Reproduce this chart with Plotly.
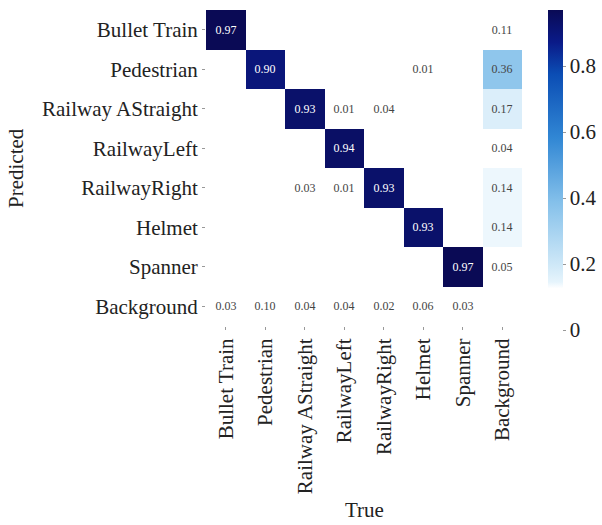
import plotly.graph_objects as go

classes = ["Bullet Train", "Pedestrian", "Railway AStraight", "RailwayLeft",
           "RailwayRight", "Helmet", "Spanner", "Background"]

row_bullet = [0.97, None, None, None, None, None, None, 0.11]
row_pedestrian = [None, 0.90, None, None, None, 0.01, None, 0.36]
row_straight = [None, None, 0.93, 0.01, 0.04, None, None, 0.17]
row_left = [None, None, None, 0.94, None, None, None, 0.04]
row_right = [None, None, 0.03, 0.01, 0.93, None, None, 0.14]
row_helmet = [None, None, None, None, None, 0.93, None, 0.14]
row_spanner = [None, None, None, None, None, None, 0.97, 0.05]
row_background = [0.03, 0.10, 0.04, 0.04, 0.02, 0.06, 0.03, None]

z = [row_bullet, row_pedestrian, row_straight, row_left,
     row_right, row_helmet, row_spanner, row_background]
text = [["" if v is None else f"{v:.2f}" for v in r] for r in z]

colorscale = [
    [0.0, "#ffffff"], [0.13, "#ffffff"], [0.15, "#e6f4fc"], [0.2, "#d0e9f8"],
    [0.4, "#84c0ea"], [0.6, "#3187d4"], [0.8, "#0b4db4"], [0.9, "#0a1a88"],
    [1.0, "#0a0a55"],
]

W, H = 602, 525
L, R, T, B = 206, 80, 10, 199
pw = W - L - R
ph = H - T - B
FONT = "Liberation Serif"

fig = go.Figure(go.Heatmap(
    z=z, x=classes, y=classes, text=text, texttemplate="%{text}",
    textfont=dict(family=FONT, size=12),
    colorscale=colorscale, zmin=0, zmax=0.97, xgap=0, ygap=0,
    hoverongaps=False,
    colorbar=dict(
        x=(548 - L) / pw, xanchor="left",
        y=(T + ph - 170) / ph, yanchor="middle", len=320, lenmode="pixels",
        ypad=0, xpad=0,
        thickness=15, outlinewidth=0,
        tickvals=[0, 0.2, 0.4, 0.6, 0.8], ticktext=["0", "0.2", "0.4", "0.6", "0.8"],
        ticks="outside", ticklen=3, tickcolor="#999",
        tickfont=dict(family=FONT, size=21, color="#222"),
    ),
))

fig.update_layout(
    width=W, height=H,
    margin=dict(l=L, r=R, t=T, b=B, autoexpand=False),
    paper_bgcolor="white", plot_bgcolor="white",
    font=dict(family=FONT, color="#222"),
    xaxis=dict(tickangle=-90, ticks="outside", ticklen=3, tickcolor="#999",
               tickfont=dict(size=21), showgrid=False, zeroline=False,
               showline=False, automargin=False),
    yaxis=dict(autorange="reversed", ticks="outside", ticklen=3, tickcolor="#999",
               tickfont=dict(size=21), showgrid=False, zeroline=False,
               showline=False, automargin=False),
    annotations=[
        dict(text="True", xref="paper", yref="paper", x=0.5,
             y=(T + ph - 510) / ph, xanchor="center", yanchor="middle",
             showarrow=False, font=dict(size=21, family=FONT, color="#222")),
        dict(text="Predicted", xref="paper", yref="paper", x=(16 - L) / pw,
             y=0.5, xanchor="center", yanchor="middle", textangle=-90,
             showarrow=False, font=dict(size=21, family=FONT, color="#222")),
    ],
)

fig.write_html("out.html")
